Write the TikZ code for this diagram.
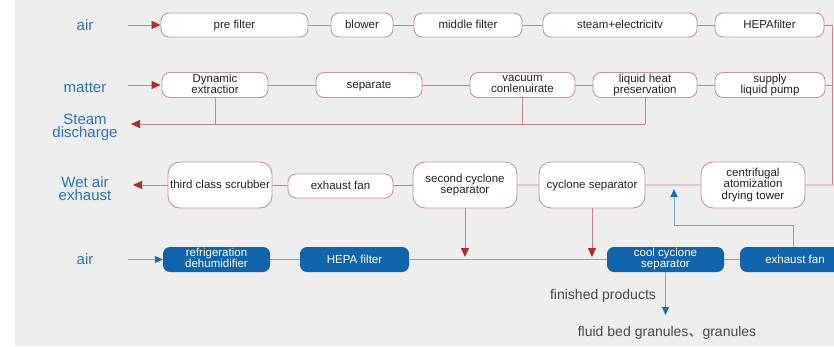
\documentclass[tikz,border=0pt]{standalone}
\usepackage{fontspec}
\setmainfont{Liberation Sans}
\newfontfamily\cjkfont{Noto Sans CJK SC}
\usetikzlibrary{arrows.meta}
\definecolor{bgc}{HTML}{EEEEEE}
\definecolor{boxline}{HTML}{C99594}
\definecolor{redline}{HTML}{C48584}
\definecolor{redtip}{HTML}{B22A2A}
\definecolor{lblue}{HTML}{2F72BE}
\definecolor{boxblue}{HTML}{0F64AC}
\definecolor{blueline}{HTML}{78A8D0}
\definecolor{bluetip}{HTML}{1E6CB4}
\definecolor{txt}{HTML}{222222}
\definecolor{gtxt}{HTML}{4A4A4A}
\newcommand\boxstrut{\vrule height 9.5pt depth 2.5pt width 0pt\relax}
\tikzset{
  rbox/.style={draw=boxline, line width=0.9pt, fill=white, rounded corners=8pt,
    inner sep=0pt, align=center, text=txt, font=\fontsize{11.5}{11.5}\selectfont,
    execute at begin node=\boxstrut, execute at end node=\boxstrut},
  bbox/.style={fill=boxblue, rounded corners=7pt, inner sep=0pt, align=center,
    text=white, font=\fontsize{11.5}{11}\selectfont,
    execute at begin node=\boxstrut, execute at end node=\boxstrut},
  side/.style={text=lblue, align=center, font=\fontsize{15}{13}\selectfont},
  rl/.style={draw=redline, line width=0.9pt},
  ra/.style={draw=redline, line width=0.9pt, -{Triangle[length=9pt,width=8pt,fill=redtip,color=redtip]}},
  bl/.style={draw=blueline, line width=0.9pt},
  ba/.style={draw=blueline, line width=0.9pt, -{Triangle[length=8pt,width=7pt,fill=bluetip,color=bluetip]}},
  gt/.style={text=gtxt, font=\fontsize{14}{14}\selectfont}
}
\begin{document}
\begin{tikzpicture}[x=1pt,y=-1pt]
\clip (0,0) rectangle (834,346);
\fill[white] (0,0) rectangle (834,346);
\fill[bgc] (15,0) rectangle (834,346);

% row 1
\node[side] (air1) at (85,25) {air};
\node[rbox, minimum width=147pt, minimum height=24pt] (pf) at (234.5,25) {pre filter};
\node[rbox, minimum width=62pt, minimum height=24pt] (blw) at (362,25) {blower};
\node[rbox, minimum width=108pt, minimum height=24pt] (mf) at (468,25) {middle filter};
\node[rbox, minimum width=154pt, minimum height=24pt] (se) at (620,25) {steam+electricitv};
\node[rbox, minimum width=109pt, minimum height=24pt] (hf) at (769.5,25) {HEPAfilter};
\coordinate (r1) at (832.5,25);
\coordinate (a1s) at (128,25);

% row 2
\node[side] (matter) at (85,88) {matter};
\node[rbox, minimum width=106pt, minimum height=25pt] (de) at (215,85) {Dynamic\\extractior};
\node[rbox, minimum width=106pt, minimum height=25pt] (sp) at (369,85) {separate};
\node[rbox, minimum width=105pt, minimum height=25pt] (vc) at (522.5,85) {vacuum\\conlenuirate};
\node[rbox, minimum width=104pt, minimum height=25pt] (lh) at (645,85) {liquid heat\\preservation};
\node[rbox, minimum width=110pt, minimum height=25pt] (sl) at (770,85) {supply\\liquid pump};
\coordinate (r2) at (832.5,85);
\coordinate (a2s) at (128,85);

% steam discharge
\node[side] (steam) at (85,127) {Steam\\discharge};
\coordinate (st) at (131,124);
\coordinate (s1) at (de.south |- 0,124);
\coordinate (s2) at (vc.south |- 0,124);
\coordinate (s3) at (lh.south |- 0,124);

% row 3
\node[side] (wet) at (85,189) {Wet air\\exhaust};
\node[rbox, minimum width=104pt, minimum height=46pt, rounded corners=12pt] (tc) at (220,185) {third class scrubber};
\node[rbox, minimum width=105pt, minimum height=24pt] (ef) at (340.5,186) {exhaust fan};
\node[rbox, minimum width=104pt, minimum height=46pt, rounded corners=12pt] (sc) at (465,185) {second cyclone\\separator};
\node[rbox, minimum width=106pt, minimum height=46pt, rounded corners=12pt] (cs) at (592,185) {cyclone separator};
\node[rbox, minimum width=104pt, minimum height=46pt, rounded corners=12pt] (ct) at (753,185) {centrifugal\\atomization\\drying tower};
\coordinate (r3) at (832.5,185);
\coordinate (wt) at (133,185);

% row 4
\node[side] (air2) at (85,259) {air};
\node[bbox, minimum width=107pt, minimum height=25pt] (rd) at (216.5,259.5) {refrigeration\\dehumidifier};
\node[bbox, minimum width=109pt, minimum height=25pt] (hp) at (354.5,259.5) {HEPA filter};
\node[bbox, minimum width=117pt, minimum height=25pt] (cc) at (665.5,259.5) {cool cyclone\\separator};
\node[bbox, minimum width=110pt, minimum height=25pt] (ef2) at (795,259.5) {exhaust fan};
\coordinate (a4s) at (128,259.5);
\coordinate (d1) at (sc.south |- 0,257);
\coordinate (d2) at (cs.south |- 0,257);
\coordinate (u1) at (793,247);
\coordinate (u2) at (674,189);
\coordinate (fp) at (cc.south |- 0,315);
\node[gt] (fin) at (603,296) {finished products};
\node[gt] (flu) at (667,333) {fluid\hspace{4pt}bed\hspace{4pt}granules{\cjkfont 、}granules};

% connectors row 1
\draw[ra] (a1s) -- (pf.west);
\draw[rl] (pf) -- (blw) (blw) -- (mf) (mf) -- (se) (se) -- (hf) (hf.east) -- (r1);
\draw[rl] (r1) -- (r3);
% row 2
\draw[ra] (a2s) -- (pf.west |- de.west);
\draw[rl] (de) -- (sp) (sp) -- (vc) (vc) -- (lh) (lh) -- (sl) (sl.east) -- (r2);
\draw[rl] (de.south) -- (s1) (vc.south) -- (s2) (lh.south) -- (s3);
\draw[ra] (s3) -- (st);
% row 3
\draw[rl] (r3) -- (ct.east) (ct) -- (cs) (cs) -- (sc) (sc) -- (ef) (ef) -- (tc);
\draw[ra] (tc.west) -- (wt);
\draw[ra] (sc.south) -- (d1);
\draw[ra] (cs.south) -- (d2);
% row 4
\draw[ba] (a4s) -- (rd.west);
\draw[bl] (rd) -- (hp) (hp) -- (cc) (cc) -- (ef2);
\draw[ba] (u1) |- (674,225) -- (u2);
\draw[ba] (cc.south) -- (fp);
\end{tikzpicture}
\end{document}
